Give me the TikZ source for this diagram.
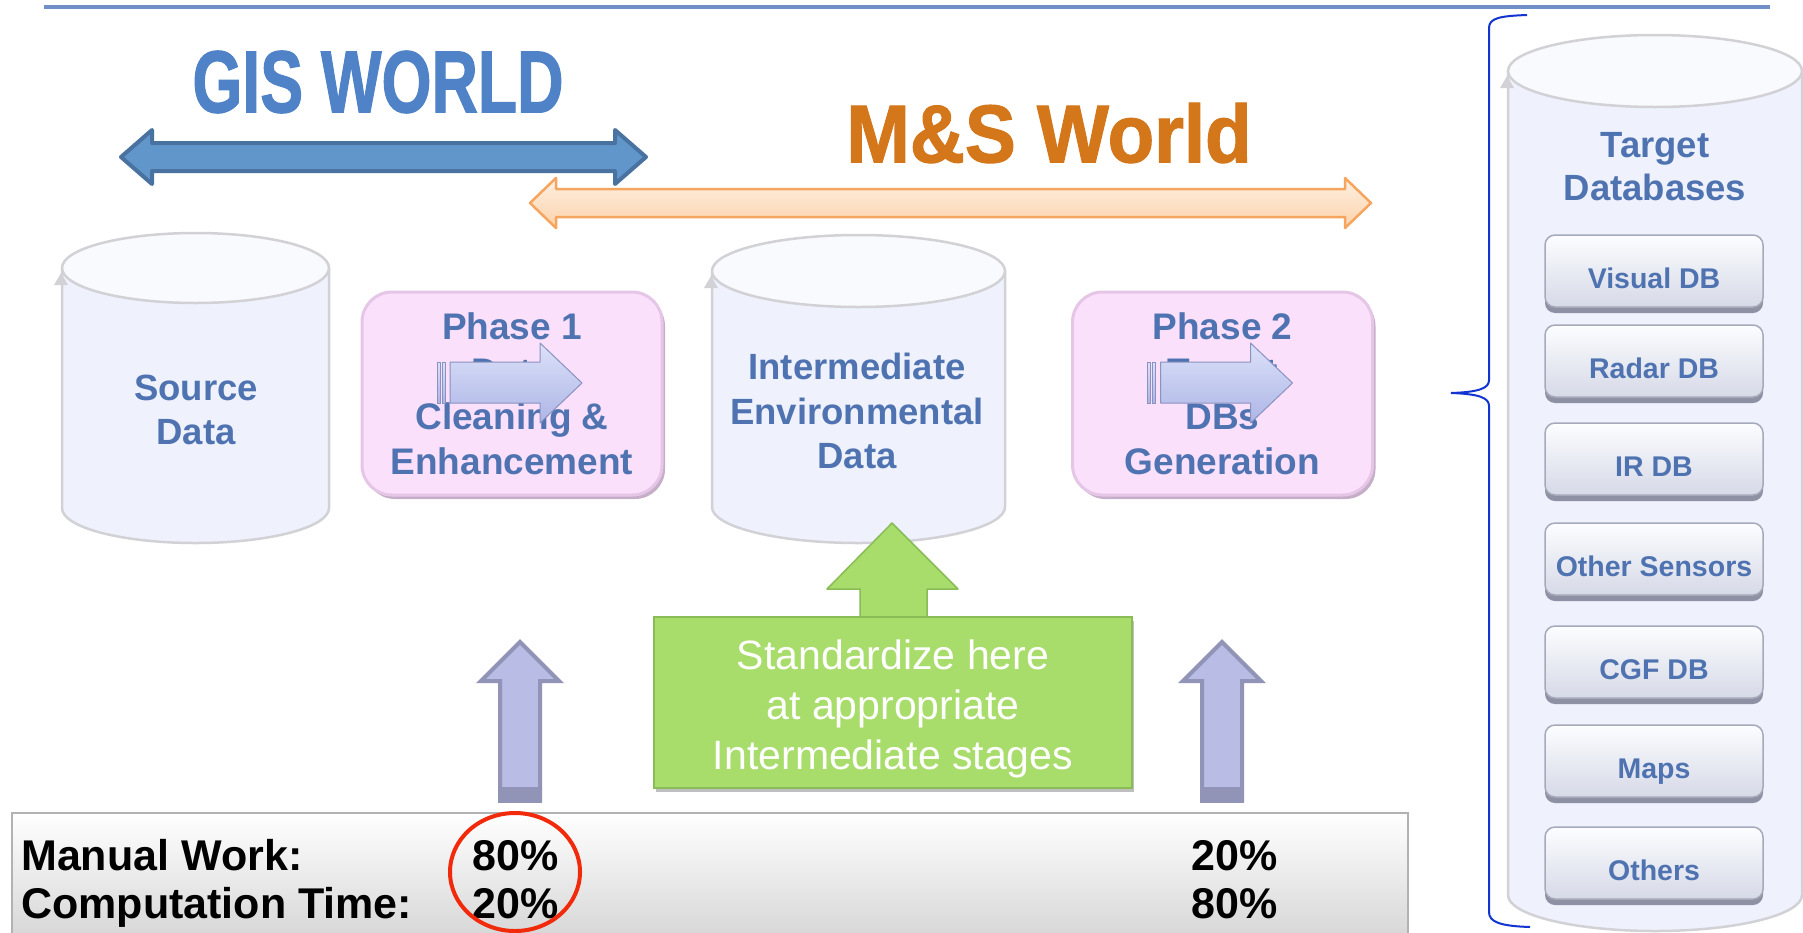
\documentclass[tikz,border=0pt]{standalone}
\usepackage{fontspec}
\setmainfont{Liberation Sans}
\newfontfamily\heavyfont{Liberation Sans}[BoldFeatures={FakeBold=1.5}]
\usetikzlibrary{arrows.meta,shadows}

\definecolor{rulebl}{HTML}{6F8FC6}
\definecolor{textbl}{HTML}{4F73B1}
\definecolor{gisbl}{HTML}{4F82C6}
\definecolor{msor}{HTML}{D4761A}
\definecolor{gisarrow}{HTML}{6196CA}
\definecolor{gisedge}{HTML}{4A72A0}
\definecolor{msfilltop}{HTML}{FEF0E2}
\definecolor{msfillbot}{HTML}{FBD2AA}
\definecolor{msedge}{HTML}{F6A55E}
\definecolor{cylfill}{HTML}{EFF2FD}
\definecolor{cyltopfill}{HTML}{F9FAFE}
\definecolor{cyledge}{HTML}{D2D2D6}
\definecolor{phfill}{HTML}{FBE0FB}
\definecolor{phedge}{HTML}{E6C6E7}
\definecolor{phshade}{HTML}{B08DB2}
\definecolor{flowtop}{HTML}{DCE1F9}
\definecolor{flowbot}{HTML}{ADB5E6}
\definecolor{flowedge}{HTML}{8A92BF}
\definecolor{upfill}{HTML}{B9BCE5}
\definecolor{upedge}{HTML}{9194B6}
\definecolor{stdfill}{HTML}{A8DC6B}
\definecolor{stdedge}{HTML}{89BC56}
\definecolor{btntop}{HTML}{FCFDFF}
\definecolor{btnbot}{HTML}{D6D9E7}
\definecolor{btnedge}{HTML}{A6A9B9}
\definecolor{btnshadow}{HTML}{8E91A3}
\definecolor{bracebl}{HTML}{1234D0}
\definecolor{barbot}{HTML}{D4D4D4}
\definecolor{ringred}{HTML}{F22A0C}

\begin{document}
\begin{tikzpicture}[x=1pt, y=-1pt,
    cylbody/.style={fill=cylfill, draw=cyledge, line width=2.5pt},
    cyltop/.style={fill=cyltopfill, draw=cyledge, line width=2.5pt},
    bluetext/.style={text=textbl, font=\bfseries\fontsize{36.5}{44.5}\selectfont, align=center, inner sep=0pt},
    phasebox/.style={fill=phfill, draw=phedge, line width=3pt, rounded corners=30pt,
        minimum width=300pt, minimum height=203pt, text=textbl,
        font=\bfseries\fontsize{37}{45}\selectfont, align=center, inner sep=0pt,
        drop shadow={shadow xshift=3pt, shadow yshift=-4pt, fill=phshade, opacity=0.7}},
    flowarrow/.style={top color=flowtop, bottom color=flowbot, draw=flowedge, line width=1pt},
    uparrow/.style={fill=upfill, draw=upedge, line width=4pt},
    stdbox/.style={fill=stdfill, draw=stdedge, line width=1.5pt, minimum width=478pt,
        minimum height=171pt, inner sep=0pt,
        drop shadow={shadow xshift=2pt, shadow yshift=-4pt, fill=black, opacity=0.25}},
    stdtext/.style={text=white, font=\fontsize{41}{50}\selectfont, align=center, inner sep=0pt},
    dbbtn/.style={top color=btntop, bottom color=btnbot, draw=btnedge, line width=1.5pt,
        rounded corners=10pt, minimum width=218pt, minimum height=72pt, inner sep=0pt,
        text height=34pt, text depth=0pt,
        text=textbl, font=\bfseries\fontsize{28.5}{30}\selectfont,
        drop shadow={shadow xshift=0pt, shadow yshift=-6pt, fill=btnshadow, opacity=1}},
    tally/.style={font=\bfseries\fontsize{43}{43}\selectfont, anchor=base west, inner sep=0pt}
  ]
  \useasboundingbox (0,0) rectangle (1803,932);
  \fill[white] (0,0) rectangle (1803,932);

  % Top rule
  \draw[rulebl, line width=4pt] (44,7) -- (1770,7);

  % World titles
  \node[text=gisbl, inner sep=0pt] (gis) at (378,82)
    {\scalebox{0.73}[1]{\heavyfont\bfseries\fontsize{88}{88}\selectfont GIS WORLD}};
  \node[text=msor, inner sep=0pt] (msw) at (1049,133)
    {\scalebox{0.93}[1]{\heavyfont\bfseries\fontsize{82}{82}\selectfont M\&S World}};

  % GIS double arrow
  \draw[fill=gisarrow, draw=gisedge, line width=4pt, line join=round]
    (121,157) -- (152,130) -- (152,143) -- (615,143) -- (615,130) -- (646,157)
    -- (615,184) -- (615,171) -- (152,171) -- (152,184) -- cycle;

  % M&S double arrow
  \draw[top color=msfilltop, bottom color=msfillbot, draw=msedge, line width=2.5pt, line join=round]
    (530,203) -- (556,178) -- (556,189) -- (1345,189) -- (1345,178) -- (1371,203)
    -- (1345,228) -- (1345,217) -- (556,217) -- (556,228) -- cycle;

  % Source data store
  \draw[cylbody] (62,268) -- (62,508) arc[start angle=180, end angle=0, x radius=133.5, y radius=35] -- (329,268);
  \draw[cyltop] (195.5,268) ellipse[x radius=133.5, y radius=35];
  \fill[cyledge] (61,273) -- (68,285) -- (54,285) -- cycle;
  \node[bluetext] (src) at (196,410) {Source\\Data};

  % Intermediate data store
  \draw[cylbody] (712,271) -- (712,507) arc[start angle=180, end angle=0, x radius=146.5, y radius=36] -- (1005,271);
  \draw[cyltop] (858.5,271) ellipse[x radius=146.5, y radius=36];
  \fill[cyledge] (711,276) -- (718,288) -- (704,288) -- cycle;
  \node[bluetext] (mid) at (857,411) {Intermediate\\Environmental\\Data};

  % Phase boxes
  \node[phasebox] (ph1) at (512,393.5) {Phase 1\\Data\\Cleaning \&\\Enhancement};
  \node[phasebox] (ph2) at (1222.5,393.5) {Phase 2\\Target\\DBs\\Generation};

  % Arrows inside the phase boxes
  \foreach \bx in {512,1222.5} {
    \begin{scope}[shift={(\bx,393.5)}]
      \draw[flowarrow] (-75,-31.5) rectangle (-72,9.5);
      \draw[flowarrow] (-70,-31.5) rectangle (-67,9.5);
      \draw[flowarrow, line join=round] (-62,-31.5) -- (28,-31.5) -- (28,-50.5) -- (70,-10.5)
        -- (28,29.5) -- (28,9.5) -- (-62,9.5) -- cycle;
    \end{scope}
  }

  % Up arrows under the phases
  \foreach \ax in {520,1222} {
    \draw[uparrow] (\ax,642) -- ({\ax+39},681) -- ({\ax+20},681) -- ({\ax+20},800)
      -- ({\ax-20},800) -- ({\ax-20},681) -- ({\ax-39},681) -- cycle;
    \fill[upedge] ({\ax-22},787) rectangle ({\ax+22},803);
  }

  % Standardize arrow and box
  \draw[fill=stdfill, draw=stdedge, line width=1.5pt, line join=round]
    (892,523) -- (958,589) -- (927,589) -- (927,630) -- (860,630) -- (860,589) -- (827,589) -- cycle;
  \node[stdbox] (std) at (893,702.5) {};
  \node[stdtext] (stdlbl) at (893,708.5) {Standardize here\\at appropriate\\Intermediate stages};

  % Target databases store
  \draw[cylbody] (1508,71) -- (1508,895) arc[start angle=180, end angle=0, x radius=147, y radius=36] -- (1802,71);
  \draw[cyltop] (1655,71) ellipse[x radius=147, y radius=36];
  \fill[cyledge] (1507,76) -- (1514,88) -- (1500,88) -- cycle;
  \node[bluetext, font=\bfseries\fontsize{36.5}{43}\selectfont] (tgt) at (1655,167) {Target\\Databases};

  % Database buttons
  \foreach \ty/\lbl [count=\i] in {271/Visual DB, 361/Radar DB, 459/IR DB, 559/Other Sensors,
      662/CGF DB, 761/Maps, 863/Others}
    \node[dbbtn] (db\i) at (1654,\ty) {\lbl};

  % Brace
  \draw[bracebl, line width=2pt]
    (1527,15) .. controls (1500,16) and (1489,18) .. (1489,28) -- (1489,380)
    .. controls (1489,388) and (1480,392) .. (1451,393)
    .. controls (1480,394) and (1489,398) .. (1489,406) -- (1489,912)
    .. controls (1489,922) and (1500,926) .. (1530,927);

  % Bottom tally bar
  \draw[top color=white, bottom color=barbot, draw=gray!60, line width=1.5pt]
    (12,813) rectangle (1408,945);
  \node[tally] (mw) at (21,870) {Manual Work:};
  \node[tally] (ct) at (21,918) {Computation Time:};
  \node[tally] (mw1) at (472,870) {80\%};
  \node[tally] (ct1) at (472,918) {20\%};
  \node[tally] (mw2) at (1191,870) {20\%};
  \node[tally] (ct2) at (1191,918) {80\%};

  % Highlight ring
  \draw[ringred, line width=4pt] (515,872) ellipse[x radius=65, y radius=59];
\end{tikzpicture}
\end{document}
